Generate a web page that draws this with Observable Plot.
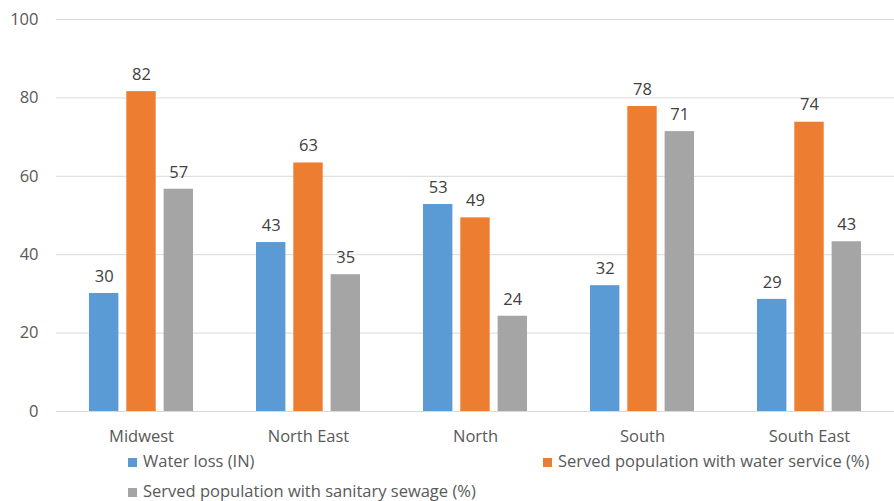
<!DOCTYPE html>
<html>
<head>
<meta charset="utf-8">
<script src="https://cdn.jsdelivr.net/npm/d3@7"></script>
<script src="https://cdn.jsdelivr.net/npm/@observablehq/plot@0.6"></script>
<style>
  body { margin: 0; background: #fff; }
  #wrap { position: relative; width: 894px; height: 501px; font-family: "Open Sans", sans-serif; color: #595959; }
  .leg { position: absolute; height: 22px; line-height: 22px; font-size: 16.5px; white-space: nowrap; }
  .sw { display: inline-block; width: 9px; height: 9px; margin-right: 6px; vertical-align: 0px; }
</style>
</head>
<body>
<div id="wrap"></div>
<script>
const regions = ["Midwest", "North East", "North", "South", "South East"];
const series = ["Water loss (IN)", "Served population with water service (%)", "Served population with sanitary sewage (%)"];
const colors = ["#5B9BD5", "#ED7D31", "#A5A5A5"];
const waterLoss = [30.1, 43.1, 52.8, 32.1, 28.6];
const waterService = [81.6, 63.4, 49.4, 77.8, 73.8];
const sewage = [56.7, 34.9, 24.3, 71.4, 43.3];
const yTicks = [0, 20, 40, 60, 80, 100];

const seriesValues = [waterLoss, waterService, sewage];
const W = 894, ML = 56, MR = 0;
const padInner = 0.38, padOuter = 0.19;
const bandStep = (W - ML - MR) / regions.length;
const bandWidth = bandStep * (1 - padInner);
const barGap = 8;
const barW = (bandWidth - barGap * (series.length - 1)) / series.length;

const barMarks = [];
series.forEach((s, j) => {
  const rows = regions.map((r, i) => ({region: r, series: s, value: seriesValues[j][i]}));
  const left = j * (barW + barGap);
  const right = bandWidth - left - barW;
  barMarks.push(Plot.barY(rows, {x: "region", y: "value", fill: colors[j], insetLeft: left, insetRight: right}));
  barMarks.push(Plot.text(rows, {x: "region", y: "value", text: d => d3.format(".0f")(d.value),
    dx: left + barW / 2 - bandWidth / 2, dy: -17, fill: "#404040", fontSize: 16.5}));
});

const chart = Plot.plot({
  width: W,
  height: 450,
  marginLeft: ML,
  marginRight: MR,
  marginTop: 19,
  marginBottom: 39,
  style: {fontFamily: "'Open Sans', sans-serif", fontSize: "16.5px", color: "#595959", background: "#fff"},
  x: {domain: regions, paddingInner: padInner, paddingOuter: padOuter, label: null},
  y: {domain: [0, 100], ticks: yTicks, label: null},
  marks: [
    Plot.gridY(yTicks, {stroke: "#D9D9D9", strokeOpacity: 1, strokeWidth: 1}),
    Plot.axisY({ticks: yTicks, tickSize: 0, tickPadding: 18, label: null, fontSize: 16.5}),
    Plot.axisX({tickSize: 0, tickPadding: 19, label: null, fontSize: 16.5}),
    ...barMarks
  ]
});
const wrap = document.getElementById("wrap");
wrap.appendChild(chart);

const legendPos = [[128, 450], [543, 450], [128, 480]];
series.forEach((s, j) => {
  const d = document.createElement("div");
  d.className = "leg";
  d.style.left = legendPos[j][0] + "px";
  d.style.top = legendPos[j][1] + "px";
  const sw = document.createElement("span");
  sw.className = "sw";
  sw.style.background = colors[j];
  d.appendChild(sw);
  d.appendChild(document.createTextNode(s));
  wrap.appendChild(d);
});
</script>
</body>
</html>
